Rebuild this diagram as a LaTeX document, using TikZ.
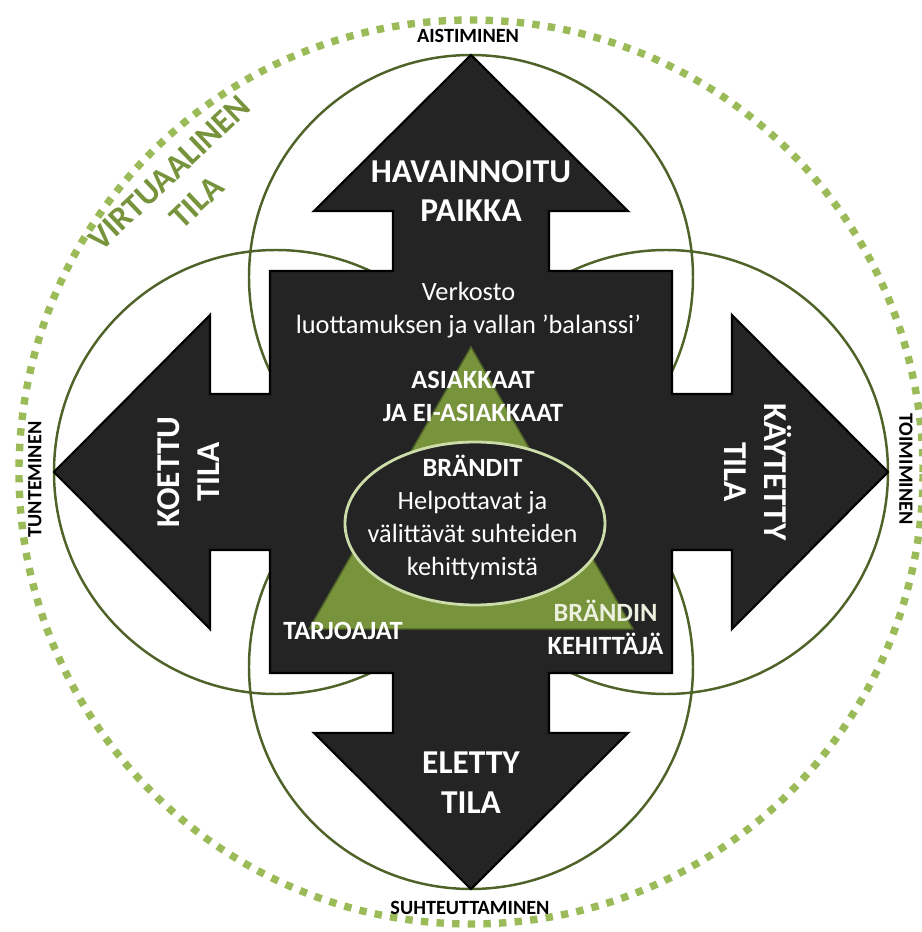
\documentclass[tikz,border=0pt]{standalone}
\usepackage{fontspec}
\setmainfont{Carlito}
\usetikzlibrary{shapes.geometric}
\definecolor{crossgray}{RGB}{36,36,36}
\definecolor{wheelgreen}{RGB}{79,98,40}
\definecolor{ringgreen}{RGB}{155,187,89}
\definecolor{trigreen}{RGB}{119,147,60}
\definecolor{paleedge}{RGB}{204,221,170}
\definecolor{palegreen}{RGB}{235,241,222}
\tikzset{
	wheel/.style={draw=wheelgreen, line width=1.4pt},
	ring/.style={draw=ringgreen, line width=4.2pt, dash pattern=on 4.2pt off 4.7pt},
	armlabel/.style={text=white, font=\bfseries\fontsize{19}{22.7}\selectfont, align=center},
	midlabel/.style={text=white, font=\fontsize{15}{18.7}\selectfont, align=center},
	boldlabel/.style={text=white, font=\bfseries\fontsize{15}{18.7}\selectfont, align=center},
	sidelabel/.style={text=black, font=\bfseries\fontsize{11.5}{13}\selectfont}
}
\begin{document}
\begin{tikzpicture}
	\useasboundingbox (-9.42,-9.2) rectangle (9.02,9.44);
	
	%%dotted outer ring
	\draw[ring] (0,0) circle (9.04);
	
	%%four circles behind the cross
	\draw[wheel] (0,3.9) circle (4.44);
	\draw[wheel] (3.9,0) circle (4.44);
	\draw[wheel] (0,-3.9) circle (4.44);
	\draw[wheel] (-3.9,0) circle (4.44);
	
	%%cross of four arrows
	\draw[fill=crossgray, draw=black, line width=1.2pt, line join=miter]
		(0,8.34) -- (3.14,5.22) -- (1.56,5.22) -- (1.56,4.02) -- (4.02,4.02) -- (4.02,1.56)
		-- (5.22,1.56) -- (5.22,3.14) -- (8.34,0) -- (5.22,-3.14) -- (5.22,-1.56) -- (4.02,-1.56)
		-- (4.02,-4.02) -- (1.56,-4.02) -- (1.56,-5.22) -- (3.14,-5.22) -- (0,-8.34) -- (-3.14,-5.22)
		-- (-1.56,-5.22) -- (-1.56,-4.02) -- (-4.02,-4.02) -- (-4.02,-1.56) -- (-5.22,-1.56) -- (-5.22,-3.14)
		-- (-8.34,0) -- (-5.22,3.14) -- (-5.22,1.56) -- (-4.02,1.56) -- (-4.02,4.02) -- (-1.56,4.02)
		-- (-1.56,5.22) -- (-3.14,5.22) -- cycle;
	
	%%green triangle + ellipse
	\draw[fill=trigreen, draw=wheelgreen, line width=0.8pt] (0,2.5) -- (3.24,-3.14) -- (-3.24,-3.14) -- cycle;
	\node[ellipse, draw=paleedge, line width=1.6pt, fill=crossgray, minimum width=5.2cm, minimum height=3.26cm] (brands) at (0.08,-1.03) {};
	
	%%arrow labels
	\node[armlabel] (place) at (0,5.62) {HAVAINNOITU\\PAIKKA};
	\node[armlabel] (lived) at (0,-6.21) {ELETTY\\TILA};
	\node[armlabel, rotate=90] (felt) at (-5.64,0) {KOETTU\\TILA};
	\node[armlabel, rotate=-90] (used) at (5.74,0) {KÄYTETTY\\TILA};
	
	%%inner labels
	\node[midlabel] (network) at (-0.05,3.24) {Verkosto\\luottamuksen ja vallan ’balanssi’};
	\node[boldlabel] (clients) at (0.04,1.51) {ASIAKKAAT\\JA EI-ASIAKKAAT};
	\node[midlabel] (brandtext) at (0.03,-0.91) {\textbf{BRÄNDIT}\\Helpottavat ja\\välittävät suhteiden\\kehittymistä};
	\node[boldlabel] (offer) at (-2.56,-3.18) {TARJOAJAT};
	\node[boldlabel] (dev) at (2.69,-3.11) {\textcolor{palegreen}{BRÄNDIN}\\KEHITTÄJÄ};
	
	%%labels at the tips
	\node[sidelabel] (sense) at (-0.06,8.72) {AISTIMINEN};
	\node[sidelabel] (relate) at (-0.02,-8.72) {SUHTEUTTAMINEN};
	\node[sidelabel, rotate=90] (feel) at (-8.72,-0.15) {TUNTEMINEN};
	\node[sidelabel, rotate=-90] (act) at (8.7,0.06) {TOIMIMINEN};
	
	%%virtual space
	\node[armlabel, text=trigreen, rotate=43.5] (virtual) at (-5.76,5.69) {VIRTUAALINEN\\TILA};
	
\end{tikzpicture}
\end{document}
